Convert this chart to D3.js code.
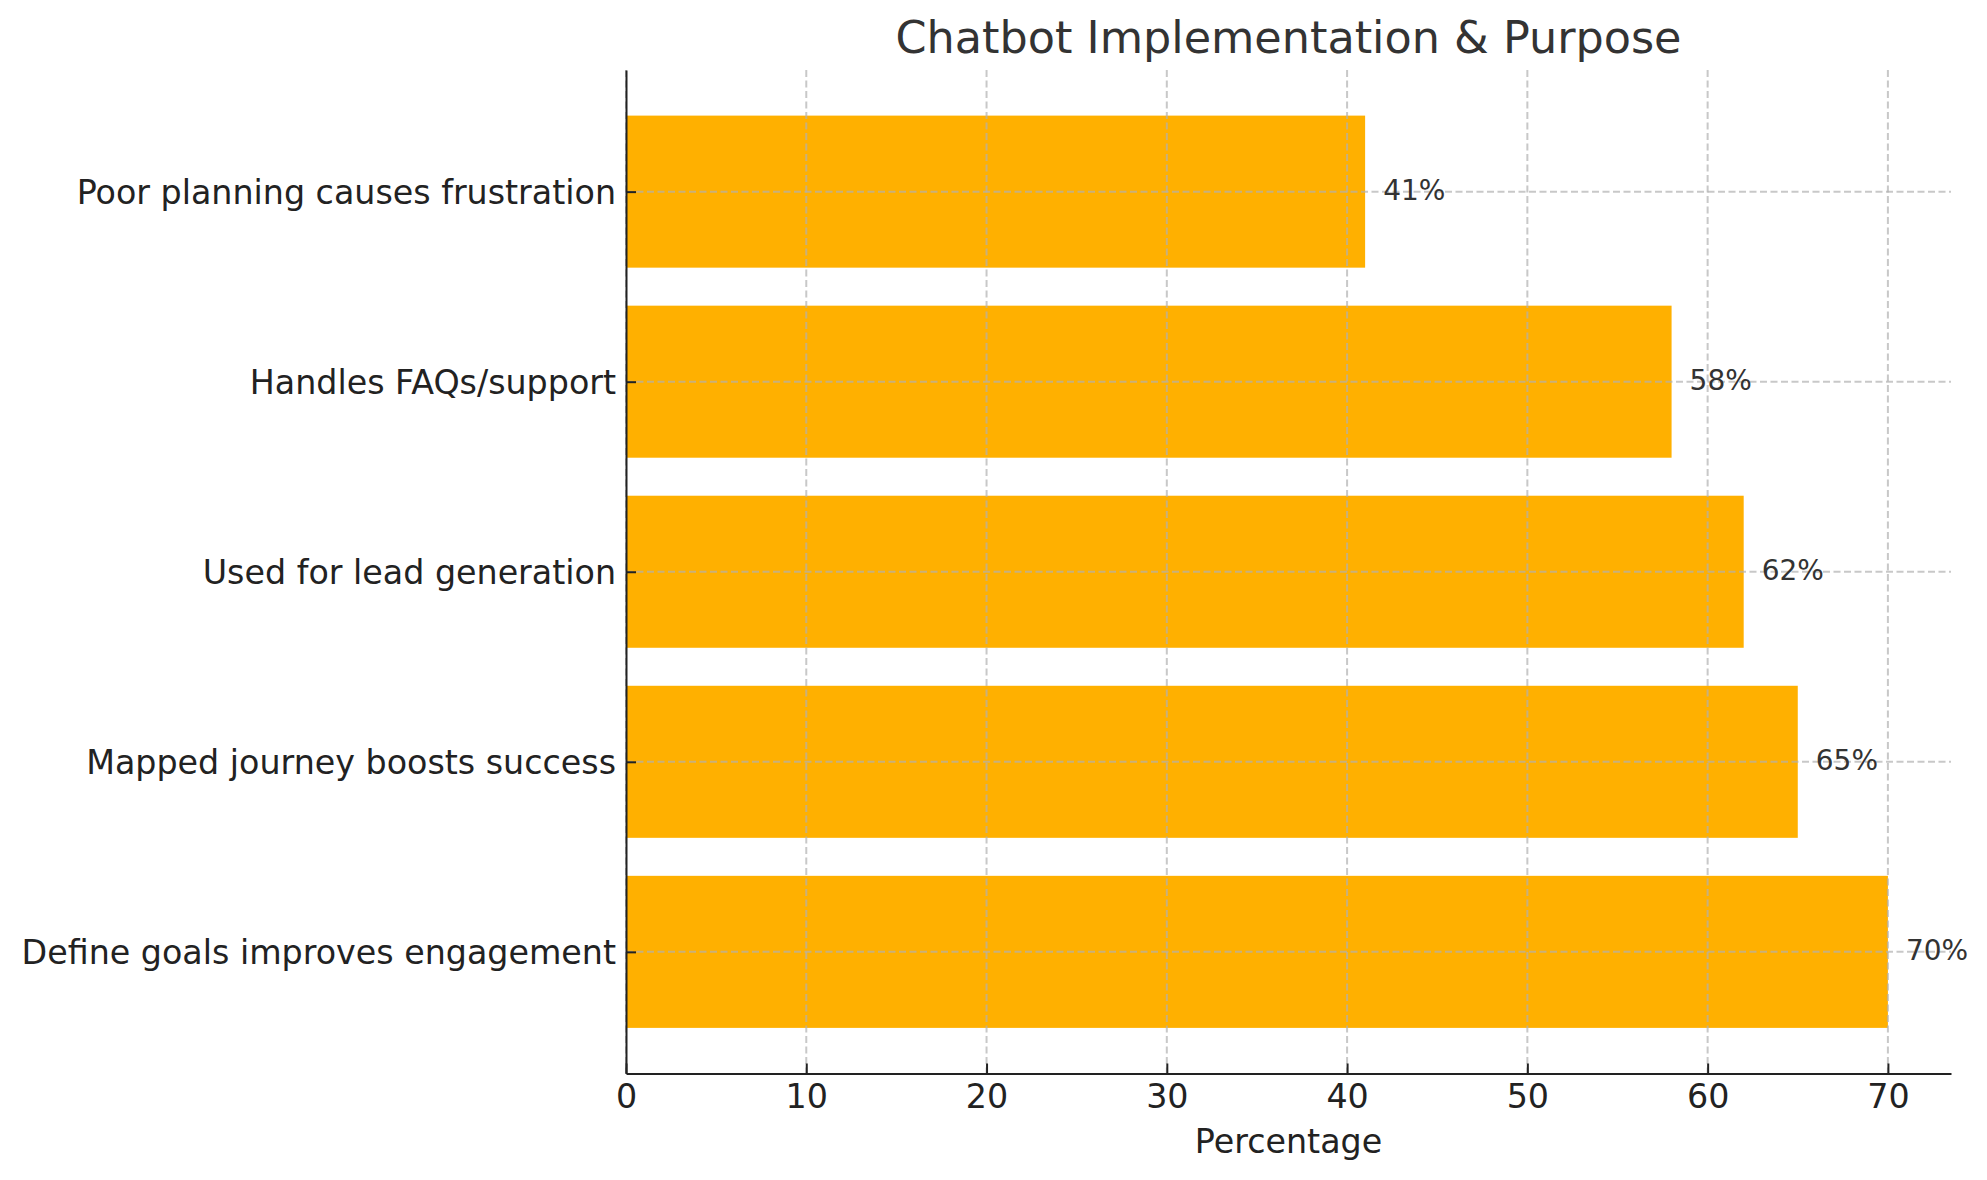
<!DOCTYPE html>
<html>
<head>
<meta charset="utf-8">
<script src="https://cdn.jsdelivr.net/npm/d3@7"></script>
<style>
  html, body { margin: 0; padding: 0; background: #fff; }
  svg { display: block; font-family: "DejaVu Sans", sans-serif; }
  .axis path, .axis line { stroke: #222; stroke-width: 2; }
  .axis text { fill: #222; }
  .grid line { stroke: #b0b0b0; stroke-opacity: 0.7; stroke-width: 2; stroke-dasharray: 7, 3.5; }
</style>
</head>
<body>
<script>
// bottom to top, as the chart lists them
const categories = [
  "Define goals improves engagement",
  "Mapped journey boosts success",
  "Used for lead generation",
  "Handles FAQs/support",
  "Poor planning causes frustration"
];
const percentages = [70, 65, 62, 58, 41];
const xTicks = [0, 10, 20, 30, 40, 50, 60, 70];

const width = 1987, height = 1180;
const plot = {left: 626, right: 1951, top: 70, bottom: 1073.5};
const barHeight = 0.8;

const svg = d3.select("body")
  .append("svg")
  .attr("width", width)
  .attr("height", height);

const xScale = d3.scaleLinear()
  .domain([0, 73.5])
  .range([plot.left, plot.right]);

const yScale = d3.scaleLinear()
  .domain([-0.64, categories.length - 1 + 0.64])
  .range([plot.bottom, plot.top]);

const rows = categories.map((c, i) => ({name: c, value: percentages[i], idx: i}));

// bars
svg.append("g")
  .selectAll("rect")
  .data(rows)
  .enter()
  .append("rect")
  .attr("x", xScale(0))
  .attr("y", d => yScale(d.idx + barHeight / 2))
  .attr("width", d => xScale(d.value) - xScale(0))
  .attr("height", d => yScale(d.idx - barHeight / 2) - yScale(d.idx + barHeight / 2))
  .style("fill", "#ffb000");

// grid sits over the bars
const grid = svg.append("g").attr("class", "grid");
grid.selectAll(".vg")
  .data(xTicks)
  .enter()
  .append("line")
  .attr("x1", d => xScale(d))
  .attr("x2", d => xScale(d))
  .attr("y1", plot.top)
  .attr("y2", plot.bottom);
grid.selectAll(".hg")
  .data(rows)
  .enter()
  .append("line")
  .attr("x1", plot.left)
  .attr("x2", plot.right)
  .attr("y1", d => yScale(d.idx))
  .attr("y2", d => yScale(d.idx));

// value labels
svg.append("g")
  .selectAll("text")
  .data(rows)
  .enter()
  .append("text")
  .attr("x", d => xScale(d.value + 1))
  .attr("y", d => yScale(d.idx))
  .attr("dy", "0.3em")
  .style("font-size", "28px")
  .style("fill", "#333")
  .text(d => d.value + "%");

const xAxis = d3.axisBottom(xScale)
  .tickValues(xTicks)
  .tickFormat(d3.format("d"))
  .tickSizeInner(-10)
  .tickSizeOuter(0)
  .tickPadding(11);

const yAxis = d3.axisLeft(yScale)
  .tickValues(rows.map(d => d.idx))
  .tickFormat(i => categories[i])
  .tickSizeInner(-10)
  .tickSizeOuter(0)
  .tickPadding(10);

const gx = svg.append("g")
  .attr("class", "x axis")
  .attr("transform", "translate(0," + plot.bottom + ")")
  .call(xAxis);
gx.selectAll("text").style("font-size", "33.3px").style("font-family", "DejaVu Sans");

const gy = svg.append("g")
  .attr("class", "y axis")
  .attr("transform", "translate(" + plot.left + ",0)")
  .call(yAxis);
gy.selectAll("text").style("font-size", "33.3px").style("font-family", "DejaVu Sans").attr("dy", "0.36em");

svg.selectAll(".axis path").style("fill", "none");

svg.append("text")
  .attr("class", "title")
  .attr("x", (plot.left + plot.right) / 2)
  .attr("y", 53)
  .style("text-anchor", "middle")
  .style("font-size", "44.5px")
  .style("fill", "#333")
  .text("Chatbot Implementation & Purpose");

svg.append("text")
  .attr("x", (plot.left + plot.right) / 2)
  .attr("y", 1152.5)
  .style("text-anchor", "middle")
  .style("font-size", "33.3px")
  .style("fill", "#222")
  .text("Percentage");
</script>
</body>
</html>
